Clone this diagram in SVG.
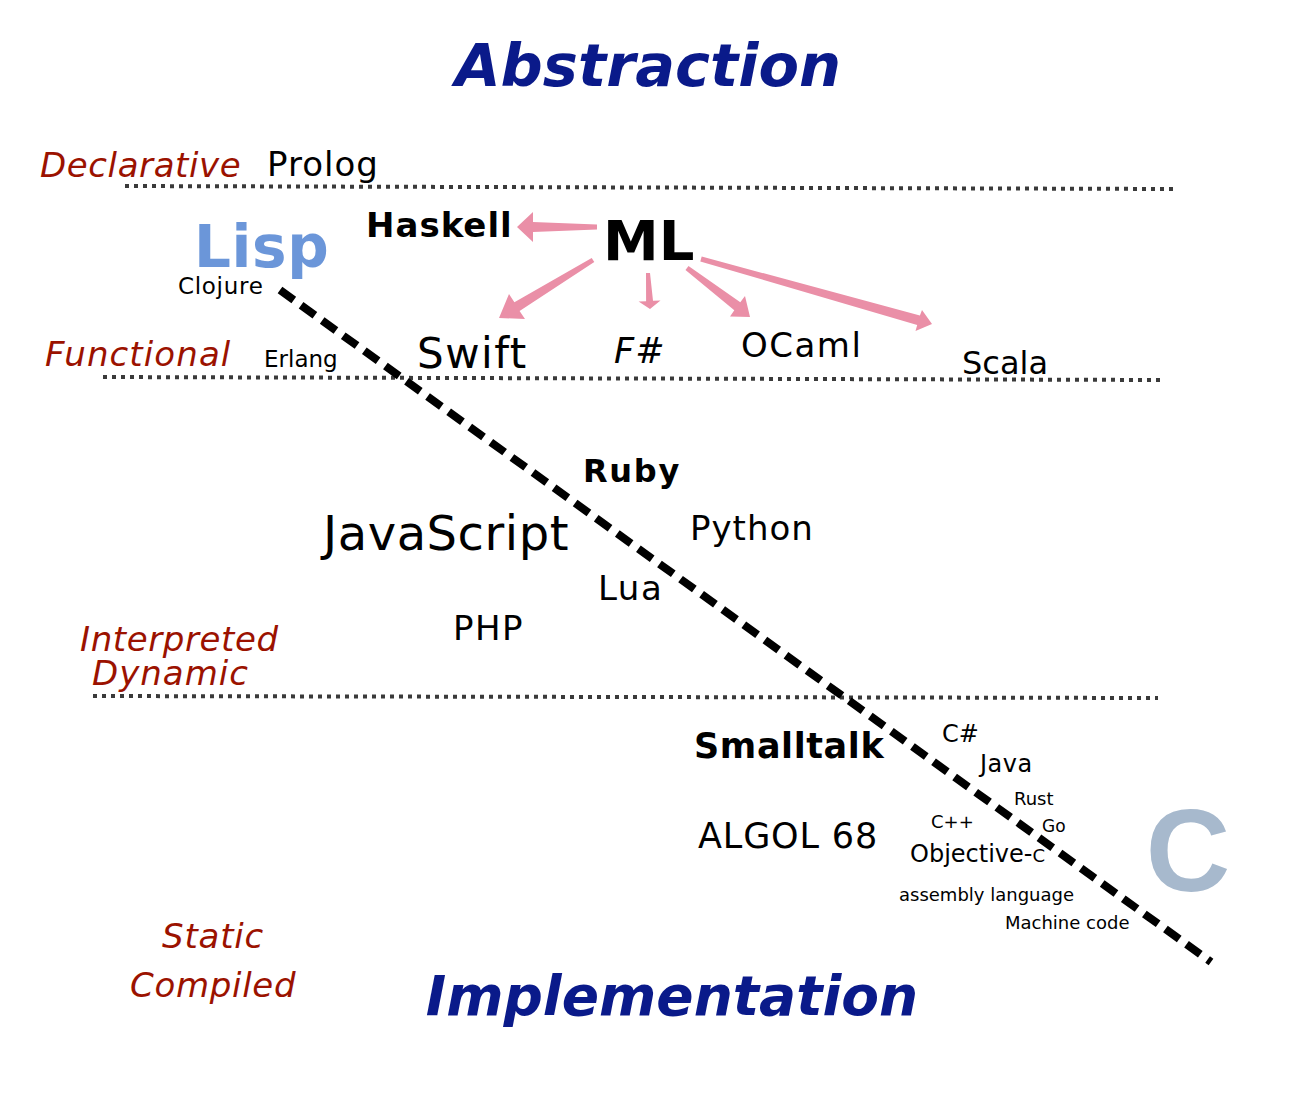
<svg xmlns="http://www.w3.org/2000/svg" width="1300" height="1100" viewBox="0 0 1300 1100">
<style>
text{font-family:"DejaVu Sans","Verdana",sans-serif;fill:#000}
.title{font-weight:bold;font-style:italic;fill:#0a1a8a;text-anchor:middle}
.cat{font-style:italic;fill:#9b1200;font-size:34px}
.b{font-weight:bold}
.sep{stroke:#3a3a3a;stroke-width:4;stroke-dasharray:4 5;fill:none}
.div{stroke:#000;stroke-width:8;stroke-dasharray:17 9;fill:none}
.arr{fill:#ea8fa7;stroke:none}
</style>
<rect x="0" y="0" width="1300" height="1100" fill="#ffffff"/>
<g id="guides">
<line class="sep" x1="125" y1="186" x2="1175" y2="189"/>
<line class="sep" x1="103" y1="377" x2="1163" y2="380"/>
<line class="sep" x1="93" y1="696" x2="1158" y2="698"/>
<line class="div" x1="280" y1="290" x2="1211" y2="962"/>
</g>
<g id="headings">
<text class="title" x="648" y="86" font-size="59">Abstraction</text>
<text class="title" x="672" y="1015" font-size="55">Implementation</text>
<text class="cat" x="40" y="177" letter-spacing="0.6">Declarative</text>
<text class="cat" x="45" y="366" letter-spacing="1.1">Functional</text>
<text class="cat" x="80" y="651" letter-spacing="0.6">Interpreted</text>
<text class="cat" x="92" y="685" letter-spacing="1">Dynamic</text>
<text class="cat" x="162" y="948" letter-spacing="0.8">Static</text>
<text class="cat" x="130" y="997" letter-spacing="0.7">Compiled</text>
</g>
<g id="node-prolog"><text x="267" y="176" font-size="34" letter-spacing="1">Prolog</text></g>
<g id="node-lisp"><text class="b" x="194" y="267" font-size="58" letter-spacing="0.6" style="fill:#6b96d9">Lisp</text></g>
<g id="node-clojure"><text x="178" y="294" font-size="23" letter-spacing="0.7">Clojure</text></g>
<g id="node-haskell"><text class="b" x="366" y="237" font-size="34" letter-spacing="1">Haskell</text></g>
<g id="node-ml"><text class="b" x="603" y="260" font-size="56">ML</text></g>
<g id="node-erlang"><text x="264" y="367" font-size="23">Erlang</text></g>
<g id="node-swift"><text x="417" y="368" font-size="42" letter-spacing="1.5">Swift</text></g>
<g id="node-fsharp"><text x="614" y="363" font-size="35" font-style="italic" letter-spacing="1">F#</text></g>
<g id="node-ocaml"><text x="741" y="357" font-size="34" letter-spacing="1.5">OCaml</text></g>
<g id="node-scala"><text x="962" y="374" font-size="32">Scala</text></g>
<g id="node-ruby"><text class="b" x="583" y="482" font-size="32" letter-spacing="1.7">Ruby</text></g>
<g id="node-javascript"><text x="323" y="550" font-size="48" letter-spacing="0.55">JavaScript</text></g>
<g id="node-python"><text x="690" y="540" font-size="34" letter-spacing="1">Python</text></g>
<g id="node-lua"><text x="598" y="600" font-size="34" letter-spacing="1.5">Lua</text></g>
<g id="node-php"><text x="453" y="640" font-size="34" letter-spacing="1.5">PHP</text></g>
<g id="node-smalltalk"><text class="b" x="694" y="758" font-size="35" letter-spacing="0.6">Smalltalk</text></g>
<g id="node-algol"><text x="698" y="848" font-size="35" letter-spacing="0.85">ALGOL 68</text></g>
<g id="node-csharp"><text x="942" y="742" font-size="24">C#</text></g>
<g id="node-java"><text x="980" y="772" font-size="24" letter-spacing="0.5">Java</text></g>
<g id="node-rust"><text x="1014" y="805" font-size="18">Rust</text></g>
<g id="node-cpp"><text x="931" y="828" font-size="18">C++</text></g>
<g id="node-go"><text x="1042" y="832" font-size="17">Go</text></g>
<g id="node-objc"><text x="910" y="862" font-size="24">Objective-<tspan font-size="18">C</tspan></text></g>
<g id="node-asm"><text x="899" y="901" font-size="18">assembly language</text></g>
<g id="node-machine"><text x="1005" y="929" font-size="18">Machine code</text></g>
<g id="node-c"><text x="1188" y="891" font-size="117" text-anchor="middle" style="font-family:'Liberation Sans',Arial,sans-serif;font-weight:bold;fill:#a7b9cd">C</text></g>
<g id="connectors">
<polygon class="arr" points="597,224.5 533,222 533,212 517,227 533,242 533,232 597,229.5"/>
<polygon class="arr" points="591.7,257.9 514.4,302.3 509,294 499,318 525,319 519.6,310.9 594.3,262.1"/>
<polygon class="arr" points="646,273.1 646.1,301.2 638.6,301.6 650,309 660.5,300.4 653,300.8 650,272.9"/>
<polygon class="arr" points="685.5,270 734.3,310.3 730,316.5 750,317 745,296 740.3,302.3 688.5,266"/>
<polygon class="arr" points="700.3,261.4 917.2,325 915.5,331 932,324 922,310 919.9,315.4 701.7,256.6"/>
</g>
</svg>
